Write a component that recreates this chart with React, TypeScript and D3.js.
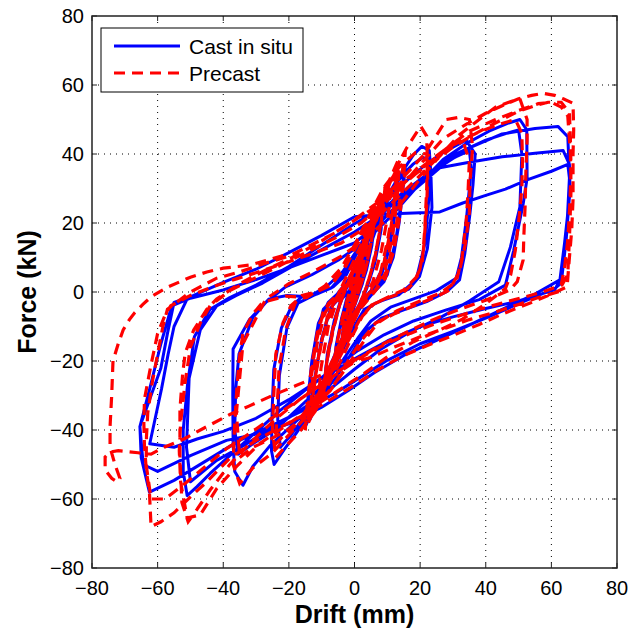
import React, { useEffect, useRef } from 'react';
import * as d3 from 'd3';

// drift (mm), force (kN), cycles grouped by drift level
const castSmall: [number, number][] = [
  [0, 0], [0.7, 3], [1.5, 6.5], [2.1, 8.5], [1.6, 5.5], [0.5, 1.5], [-0.6, -2.5], [-1.5, -6.5], [-2.1, -8.8], [-1.5, -5.2], [-0.4, -1.2],
  [1.1, 4.5], [2.4, 9.5], [3.5, 13.5], [4.1, 15.2], [3.5, 10.5], [2, 4.5], [0.4, -0.8], [-1.2, -5.5], [-2.7, -10.5], [-3.9, -14.8], [-3.4, -10], [-2.1, -4.6], [-0.6, 0.4],
  [1.3, 6], [3, 11.5], [4, 13.8], [3.3, 8.8], [1.7, 3.2], [-0.2, -2.6], [-2.1, -8.5], [-3.8, -13.6], [-3.2, -8.6], [-1.6, -3],
  [0.4, 3.2], [2.4, 9.8], [4.4, 16.5], [6.2, 21.2], [5.7, 16], [4.1, 8.5], [2.4, 2.4], [0.2, -3.5], [-2.4, -10.5], [-4.5, -16.8], [-6.3, -22], [-5.6, -15.5], [-3.9, -7.5], [-2.4, -2],
  [-0.6, 3], [2, 9.6], [4.2, 15.5], [6, 19.6], [5.3, 13.5], [3.6, 6.2], [1.7, 0.6], [-0.8, -5.5], [-3.3, -12.5], [-6, -20.5], [-5.2, -13.4], [-3.2, -5.5], [-1.6, 0.2],
  [1.5, 8], [4.2, 16], [6.8, 22.5], [9.2, 28.4], [8.6, 21.5], [6.8, 12.5], [4.8, 4.5], [2.5, -1.5], [-1, -8.5], [-4.5, -17], [-7.2, -23.5], [-9.4, -29.2], [-8.7, -21.5], [-6.6, -11.2], [-4.6, -4], [-2.4, 1.5],
  [1, 8.5], [5, 18.5], [8.8, 25.8], [8.1, 18], [6.2, 8.4], [3.8, 1.2], [0.4, -6.5], [-3.6, -15.5], [-6.8, -21.8], [-9.2, -27], [-8.3, -18.2], [-6.2, -8.4], [-4.2, -2.4],
];

const castCore: [number, number][] = [
  [-1, 1], [2, 6], [5, 14], [8, 22], [11, 29], [14, 34], [15.5, 36.5], [14.8, 30], [13.6, 20], [11.8, 10], [9, 3], [5, -1], [1.5, -5], [-2, -11], [-5.5, -19], [-9, -27], [-12.5, -34], [-15, -39], [-14.2, -31], [-13, -20], [-11, -9], [-8, -3],
  [-4, 0.5], [-0.5, 5], [3, 12], [6.5, 20], [10, 27], [13.5, 32.5], [15, 34], [14.2, 26], [12.6, 15], [10, 5], [6, 0], [2, -3], [-1.5, -8.4], [-5, -16], [-8.6, -24], [-12, -31], [-14.5, -36], [-13.6, -27], [-12, -15], [-9.5, -5], [-6, -1.5],
];

const castMid: [number, number][] = [
  [-1.5, 4], [2.5, 12.5], [6.5, 20.5], [10.4, 27.6], [13.5, 34], [12.9, 27.5], [11.2, 17.5], [8.8, 7.5], [5.5, 0.8], [2, -3], [-1, -8], [-4, -15], [-7.5, -24], [-10.6, -31], [-13.6, -37], [-12.8, -29], [-10.8, -17.5], [-8.3, -7.5], [-5.8, -2],
  [-2.5, 1], [0, 5.5], [3, 13], [6, 20], [9.8, 26], [13.2, 31.2], [12.5, 23.5], [10.6, 12.5], [7.8, 3.5], [4.2, -0.5], [1, -5], [-2, -11], [-5.5, -19], [-9, -26.5], [-13.2, -34], [-12.2, -25.5], [-10, -13.5], [-7.2, -4.5],
  [-3, 0], [0, 6], [3, 13], [6, 20], [9, 26], [12, 31], [15, 35.5], [18, 39.8], [20.5, 42.2], [22.8, 41], [23.3, 34], [23.6, 24.5], [22.2, 12.5], [19.8, 4.5], [16.5, 0.8], [11, -1.5], [6.5, -3.2], [3, -5.5], [0.2, -9.5], [-3, -15.5], [-6.5, -22], [-10, -29], [-13.5, -35], [-17.8, -41], [-21.4, -45.6], [-24.5, -50], [-25.3, -46], [-25.1, -34], [-24.6, -22.5], [-22.3, -10.5], [-19.2, -4.2], [-16.2, -1.5],
  [-11.5, -0.6], [-6.5, 1.5], [-2.5, 5], [1, 11.8], [5, 19.5], [9, 26.6], [13.5, 32.8], [17.8, 37], [20.8, 39], [22.4, 38.5], [22.9, 30], [21.6, 14.5], [18.8, 3.6], [13.5, -0.8], [7.5, -2.8], [3, -5], [-0.5, -10.6], [-4.5, -18.6], [-9.8, -27.5], [-15, -35.8], [-19.4, -41.5], [-22.6, -45], [-23.4, -37], [-22.9, -24.2], [-20.6, -10.4], [-17.2, -3.2],
];

const castDrift35: [number, number][] = [
  [-12.5, -1], [-7, 1.2], [-3, 5.5], [1, 12], [5, 19.8], [10, 26.6], [15.5, 32], [21.8, 37], [28, 41], [34, 44], [36.8, 40], [36.1, 31], [35.1, 22], [33.6, 11], [32, 3.5], [28.2, 0.2], [22, -2.8], [15, -5.2], [8.2, -7.6], [3.2, -11.6], [-0.8, -17.6], [-5.8, -25], [-11.8, -32], [-18.8, -38.4], [-25.8, -44.6], [-31, -50.6], [-34, -56], [-36.5, -52], [-37, -44], [-37.1, -30], [-37, -16.5], [-32, -8], [-26, -2],
  [-20.5, -1], [-14, -1.4], [-8.5, 1.6], [-3.5, 6], [1.5, 13.2], [6.5, 20.4], [12, 26.8], [18.8, 31.6], [25.8, 36.6], [31, 39.2], [35, 41], [35.6, 36], [34.2, 22], [32.6, 10], [31, 4], [25, 0.4], [18, -2], [11, -4.4], [5, -8.4], [1, -13.4], [-4, -20.4], [-10, -27.4], [-17, -33.6], [-24, -39.8], [-31, -44], [-35.5, -47], [-36.5, -40], [-36.2, -28], [-35.2, -18], [-31, -7.4], [-27, -3],
];

const castDrift50: [number, number][] = [
  [-21, 1.5], [-13, 5], [-5, 9.2], [3, 14.4], [11, 21.8], [19, 30.4], [27, 38.4], [34, 43], [41, 46.6], [47, 49], [50.4, 50], [52.5, 47], [52.6, 33], [51.4, 25.5], [48.5, 12], [46, 2], [38, -2.2], [28, -5.2], [18, -8.4], [9, -12.4], [1, -17], [-7, -22.6], [-15, -28.4], [-23, -34.6], [-31, -41.4], [-38, -47.4], [-44, -52.6], [-48, -56.4], [-51, -59], [-52.2, -52], [-52.2, -40], [-50.8, -26], [-48.8, -13], [-44, -5], [-38, -1.6],
  [-30, 2], [-20, 7.4], [-10, 13.6], [0, 19.8], [10, 25.2], [20, 32.6], [30, 39.6], [40, 44], [47, 46.2], [50, 47], [51, 40], [50.4, 24.6], [47.5, 13], [44, 3], [35, -2.6], [26, -7.5], [17, -11.5], [8, -16.6], [0, -22.4], [-8, -28.6], [-17, -34.6], [-26, -40], [-34, -44.6], [-42, -48.8], [-50, -55], [-51.2, -45], [-50.4, -25], [-47, -11], [-42, -4],
];

const castDrift65: [number, number][] = [
  [-36, -1], [-28, 2.6], [-19, 7.4], [-9, 12.8], [0, 17.4], [8, 22.4], [15, 28], [25, 35.6], [35, 41.8], [45, 45.8], [55, 47.4], [62, 48], [65, 45], [65.7, 30], [64.5, 15], [63, 2.6], [61, 1], [50, -3.4], [40, -7.6], [30, -11.4], [20, -15], [10, -19.8], [2, -24.6], [-6, -29.4], [-15, -34], [-25, -38.6], [-35, -43], [-45, -48.8], [-55, -54.6], [-62.5, -58], [-65, -48], [-65.4, -39], [-62.4, -28], [-59, -15], [-55.7, -4], [-50, -1.8],
  [-40, 0.6], [-30, 3.6], [-20, 7], [-10, 10.6], [0, 14.2], [8, 20.4], [15, 27], [26, 36], [35, 37.6], [45, 39.2], [55, 40.2], [63.6, 41], [65.5, 37], [65.7, 29], [64, 14], [62.6, 3.5], [55, -0.6], [45, -5], [35, -9.6], [25, -14], [15, -18.4], [6, -23.4], [-2, -28.6], [-10, -33.4], [-20, -38.2], [-30, -41.2], [-39, -43], [-50, -47.4], [-60, -52], [-64.4, -50], [-65.4, -39], [-62, -30], [-59, -22], [-57, -12], [-55, -3], [-49, -1],
  [-40, 2.8], [-30, 6.6], [-20, 11.4], [-10, 16.4], [0, 21.8], [10, 22.6], [20, 23], [26, 23.2], [33, 25.8], [40, 28], [46, 29.8], [52.6, 32.5], [60, 35], [65, 37], [65.5, 33], [64.8, 20], [62.6, 3.5], [61, 0.6], [50, -2.6], [40, -4.8], [30, -7.2], [20, -10], [10, -14.2], [0, -19.4], [-10, -25], [-20, -31.2], [-30, -36.6], [-40, -40.4], [-48, -42.6], [-55, -45], [-62.4, -44], [-60.6, -36], [-58.8, -28], [-56.8, -18], [-55, -10], [-51, -2],
];

const precastSmall: [number, number][] = [
  [0, 0], [0.8, 4], [1.6, 8], [2.2, 10.5], [1.7, 6.8], [0.5, 1.6], [-0.7, -3.6], [-1.6, -7.8], [-2.2, -10.2], [-1.5, -6.2], [-0.3, -1],
  [1.2, 5.5], [2.6, 11], [3.6, 15.5], [4.2, 17.2], [3.4, 11.4], [1.8, 4.6], [0.3, -1], [-1.3, -6.4], [-2.8, -11.8], [-4, -16.2], [-3.4, -10.6], [-1.9, -4.4], [-0.4, 0.6],
  [1.4, 7], [3, 12.8], [4.1, 16.2], [3.3, 10.2], [1.6, 3.2], [-0.3, -3], [-2.2, -9.2], [-3.9, -15], [-3.2, -9.4], [-1.5, -3],
  [0.6, 4], [2.6, 11.4], [4.6, 18.5], [6.3, 23.4], [5.6, 17.2], [4, 9], [2.2, 2.8], [0, -3.8], [-2.6, -11.4], [-4.6, -17.6], [-6.3, -22.4], [-5.5, -15.6], [-3.8, -7.8], [-2.2, -2.2],
  [-0.4, 3.6], [2.2, 11], [4.4, 17.4], [6.1, 22], [5.2, 15], [3.4, 6.8], [1.5, 0.8], [-1, -6], [-3.5, -13.4], [-6.1, -21.2], [-5.1, -13.8], [-3, -5.8], [-1.4, 0.4],
  [1.6, 9], [4.4, 18.4], [7, 25.4], [9.3, 30.4], [8.6, 22.8], [6.8, 13.2], [4.9, 5.2], [2.6, -1.2], [-1, -8.8], [-4.6, -18], [-7.2, -24.4], [-9.4, -29.6], [-8.6, -21], [-6.5, -11], [-4.6, -4], [-2.4, 1.8],
  [1.1, 9.4], [5, 20], [8.9, 28.4], [8.1, 19.8], [6.1, 9.4], [3.8, 1.8], [0.4, -6.8], [-3.6, -16.2], [-6.8, -22.4], [-9.2, -27.6], [-8.2, -18], [-6, -8], [-4, -2.4],
  [-1, 5], [3, 15], [6.5, 23], [10, 30], [11.2, 33], [10.5, 24], [8.2, 12], [5.6, 3], [2, -4], [-2, -11.6], [-6, -20], [-9, -26], [-11, -31], [-10.2, -22], [-8, -10], [-5.5, -3],
];

const precastCore: [number, number][] = [
  [-2, 1], [1.5, 7], [4.5, 15], [7.5, 23], [10.5, 31], [13.5, 37.5], [15.5, 41], [15, 33], [13.8, 22], [12, 12], [9.4, 4], [5.6, -0.6], [2, -4.6], [-1.6, -10.6], [-5, -18.4], [-8.6, -26.6], [-12, -33.4], [-15, -40], [-14.4, -32], [-13, -21], [-11, -10], [-8, -3.4],
  [-4.4, 0], [-1, 4.6], [2.4, 11.6], [6, 19.6], [9.6, 27.4], [13, 34], [14.8, 37], [14, 28], [12.4, 17], [10, 6.4], [6.4, 0.6], [2.4, -2.6], [-1, -7.6], [-4.6, -15], [-8.2, -23], [-11.6, -30.6], [-14.4, -37], [-13.6, -28], [-12, -16], [-9.6, -6], [-6, -1.4],
  [-2.6, 2.4], [0.4, 8], [3.6, 16], [7, 24], [10.6, 31.6], [13.6, 36.4], [13, 27], [11.6, 16], [9.4, 6.6], [6, 1], [2.6, -2], [-0.6, -7], [-4, -14], [-7.6, -22], [-11, -29.6], [-13.4, -35], [-12.8, -26], [-11.4, -15], [-9, -6], [-5.2, -1.2],
];

const precastMid: [number, number][] = [
  [-2, 5.4], [2.2, 14], [6.2, 23], [10, 31], [13.2, 38], [12.6, 29], [11, 18], [8.8, 7.6], [5.8, 1], [2.6, -2.4], [-0.4, -8], [-3.6, -15], [-7, -23], [-10.2, -30.2], [-13.3, -36], [-12.4, -27.6], [-10.6, -16.6], [-8, -6.4], [-5.2, -1.2],
  [-2.4, 1.6], [0.2, 7], [3, 14.6], [6.2, 22.4], [9.8, 29.4], [13, 36], [12.2, 27], [10.2, 15.6], [7.8, 5], [4.2, -0.6], [1.2, -5.6], [-2, -12.6], [-5.6, -20.4], [-9.4, -27.6], [-12.8, -33.6], [-12, -25], [-9.8, -13.4], [-6.8, -3.8],
  [-3.5, -0.4], [-0.5, 5.4], [2.5, 13.6], [5.5, 21.8], [8.5, 28.8], [12.2, 35.2], [15.8, 41.6], [18.5, 45.6], [20.2, 48], [22, 45.2], [22.2, 38], [22, 30], [21.4, 18], [20.6, 8], [18, 2.6], [15, 0], [10.4, -1.6], [6, -3.4], [2.4, -7], [-0.6, -12.6], [-4, -19.6], [-8, -27], [-12, -34.6], [-17, -40.8], [-21.6, -45.4], [-24, -48], [-25, -40], [-24.6, -30], [-24, -18], [-21.8, -9], [-19.4, -4], [-16, -1],
  [-11.6, 0], [-6.6, 2.6], [-2.8, 7.6], [0.6, 14.6], [4.6, 22.4], [9, 30.4], [13.8, 36.4], [18.6, 40.4], [22, 40], [22.3, 33], [22, 25], [21, 12], [19.6, 5], [15, 0.6], [10, -1.6], [5.2, -3.8], [1.6, -8], [-1.8, -14], [-6.6, -22.6], [-12.4, -31.2], [-18.4, -39], [-22, -42], [-24, -44], [-23.6, -34], [-23, -22], [-21, -11], [-18, -3],
];

const precastDrift35: [number, number][] = [
  [-13, -0.6], [-7, 2], [-2.6, 7.6], [1, 14], [5, 21.4], [10, 28.4], [15, 33.4], [21, 39.6], [25, 45.4], [28, 50], [31.6, 50.6], [35, 50], [36, 42], [35.2, 32], [35, 23], [33.8, 14], [32, 6], [29, 0.6], [24, -1.8], [18, -4], [12, -6.4], [6.4, -9], [2, -14.2], [-2, -20], [-6, -26.6], [-12, -33.6], [-19, -40.4], [-25, -46.6], [-31, -51], [-35, -55.5], [-37, -50], [-36.6, -40], [-36, -30], [-35.2, -20], [-34, -12], [-31, -6.4], [-28, -3],
  [-21, -1.2], [-14.6, -1.6], [-9, 1.8], [-4, 7], [0, 13.6], [4, 20.6], [9, 27.6], [16, 33], [23, 38], [28, 41.6], [33, 44], [35, 38], [34.6, 29], [34, 20], [32.8, 10], [31, 3], [26, -0.4], [20, -2.6], [13, -5.4], [7, -9], [3, -14], [-2, -21.2], [-7.4, -28.6], [-14, -35], [-20, -39.8], [-26, -42.8], [-31, -45], [-35, -48], [-36, -35], [-34, -15], [-27, -2],
];

const precastDrift50: [number, number][] = [
  [-20, 2.4], [-12, 6.2], [-4, 10.4], [4, 15.8], [12, 23], [19, 31.6], [26, 39.4], [32, 45.6], [38, 50], [43, 53.6], [47, 55], [50.4, 56], [52.6, 50], [52.6, 44], [52.2, 34], [52, 25], [51.6, 16], [51.4, 9.3], [49.6, 3], [47.4, 0.6], [40, -2.4], [32, -5], [24, -8], [16, -11.6], [8, -15.4], [0, -19.8], [-8, -25], [-16, -30.6], [-24, -36.8], [-31, -43], [-38, -50], [-44, -57.4], [-48, -63], [-50.7, -66.6], [-52.6, -61], [-53.2, -48], [-53.2, -34], [-52.4, -24], [-51.6, -17.7], [-49, -11], [-45, -5], [-42, -2],
  [-35, 2.4], [-27, 6.4], [-19, 10], [-10, 14.8], [-2, 19.6], [6, 24.4], [14, 30.4], [22, 37], [30, 42.8], [38, 46.4], [44, 48.6], [49, 50], [51, 46], [51.2, 38], [51, 30], [50, 20], [49, 12], [47.6, 5], [46, 1], [40, -3.4], [33, -7.8], [26, -11], [18, -14.4], [10, -18.8], [3, -23.6], [-5, -28.6], [-13, -33.6], [-21, -38.8], [-29, -44], [-36, -50.6], [-42, -57], [-47, -64.6], [-51, -65.5], [-53, -55], [-53.4, -46], [-53, -38], [-51.6, -26], [-50, -16], [-47, -9], [-44, -4],
];

const precastDrift65: [number, number][] = [
  [-38, 0.4], [-30, 4.2], [-22, 8], [-14, 11.8], [-6, 15.6], [2, 20], [9, 25.6], [15, 31.4], [21, 38], [27, 44.4], [34, 48.6], [40, 51.8], [45, 54], [50, 56], [54, 57], [57.5, 57.6], [61, 57], [63.6, 56], [66.6, 54.7], [66.8, 47], [66.6, 40], [66.6, 26.7], [66.2, 18], [65.5, 10], [64.8, 1.5], [60, -0.6], [55, -2.6], [45, -6.4], [38, -9.4], [30, -12.6], [22, -15.6], [15, -18.4], [7, -22.6], [0, -27], [-8, -31.6], [-15, -35.4], [-23, -39.4], [-30, -43], [-38, -48.2], [-45, -55], [-50, -59.4], [-55, -64], [-59, -66.6], [-62, -68], [-62.5, -58], [-63.4, -52], [-64, -45], [-64.2, -38], [-64, -31], [-62.2, -22], [-60, -12], [-57.6, -6.4], [-56, -4], [-50, -1],
  [-43, 1.6], [-36, 3.8], [-28, 6.2], [-20, 8.8], [-12, 11.4], [-4, 14.2], [3, 18.4], [10, 24.4], [17, 31], [24, 37.6], [30, 42], [37, 46], [45, 50], [50, 52.4], [55, 54], [59, 55], [63, 55], [65.5, 52], [65.8, 44], [66, 35], [65.6, 25], [65, 15], [64, 7], [63, 2], [58, 0.2], [52, -1.4], [45, -3.2], [38, -5], [31, -7.2], [24, -9.4], [17, -12], [10, -14.8], [3, -18.4], [-4, -22.8], [-11, -27.4], [-18, -32], [-25, -36.4], [-32, -41], [-39, -45.4], [-46, -51], [-52, -55.8], [-57.8, -60], [-62, -60], [-63.5, -50], [-63.4, -42], [-63, -35], [-61.6, -26], [-60, -18], [-58.4, -10], [-57, -5],
  [-50, 0], [-42, 4], [-35, 5.8], [-27, 8.4], [-20, 10.4], [-12, 14.2], [-5, 17.6], [2, 22.4], [10, 28], [20, 35.2], [28, 41.6], [35, 46.6], [43, 50], [50, 52.6], [56, 54.6], [60, 55], [63, 53.6], [65, 51], [65.8, 40], [66, 30], [65.6, 18], [65, 5], [62, 0], [56, -1.6], [50, -3.6], [43, -5.8], [35, -8], [28, -10.4], [20, -13], [12, -16], [5, -19], [-2, -20.6], [-10, -24], [-18, -27.2], [-25, -30], [-32, -33], [-38, -35.5], [-45, -39], [-52, -42.6], [-58, -45], [-62, -47], [-66, -46.6], [-72, -46], [-74.5, -46.4], [-76, -47.8], [-76, -51.6], [-74, -54], [-72.4, -55], [-71.5, -54], [-73, -50], [-74.5, -45], [-74.5, -39], [-74, -30], [-73.6, -20], [-72, -15], [-70.5, -11], [-68.6, -8], [-67, -6], [-64.5, -3.6], [-62, -1.4], [-57, 1.4], [-50, 4.3], [-45, 5.8], [-40, 6.9], [-32, 7.8], [-26, 9.4], [-20, 11],
];

const castInSitu = [...castSmall, ...castCore, ...castMid, ...castDrift35, ...castDrift50, ...castDrift65];
const precast = [...precastSmall, ...precastCore, ...precastMid, ...precastDrift35, ...precastDrift50, ...precastDrift65];

const xTicks = [-80, -60, -40, -20, 0, 20, 40, 60, 80];
const yTicks = [-80, -60, -40, -20, 0, 20, 40, 60, 80];
const legendLabels = ['Cast in situ', 'Precast'];

const W = 631;
const H = 630;
const FONT = '"Liberation Sans", Arial, Helvetica, sans-serif';

export default function App() {
  const svgRef = useRef<SVGSVGElement>(null);

  useEffect(() => {
    const svg = d3.select(svgRef.current);
    svg.selectAll('*').remove();

    const left = 92, right = 617, top = 16, bottom = 568;
    const x = d3.scaleLinear().domain([-80, 80]).range([left, right]);
    const y = d3.scaleLinear().domain([-80, 80]).range([bottom, top]);

    svg.append('rect').attr('width', W).attr('height', H).attr('fill', '#fff');

    // dotted grid
    const grid = svg.append('g').attr('stroke', '#000').attr('stroke-width', 1).attr('stroke-dasharray', '1 5');
    xTicks.slice(1, -1).forEach(t => {
      grid.append('line').attr('x1', x(t)).attr('x2', x(t)).attr('y1', top).attr('y2', bottom);
    });
    yTicks.slice(1, -1).forEach(t => {
      grid.append('line').attr('x1', left).attr('x2', right).attr('y1', y(t)).attr('y2', y(t));
    });

    svg.append('clipPath').attr('id', 'plotclip')
      .append('rect').attr('x', left).attr('y', top).attr('width', right - left).attr('height', bottom - top);

    const line = d3.line<[number, number]>().x(d => x(d[0])).y(d => y(d[1]));
    const plot = svg.append('g').attr('clip-path', 'url(#plotclip)');
    plot.append('path').attr('d', line(castInSitu))
      .attr('fill', 'none').attr('stroke', '#0000ff').attr('stroke-width', 3)
      .attr('stroke-linejoin', 'round');
    plot.append('path').attr('d', line(precast))
      .attr('fill', 'none').attr('stroke', '#ff0000').attr('stroke-width', 3.2)
      .attr('stroke-dasharray', '11 7');

    // box + inward ticks
    svg.append('rect').attr('x', left).attr('y', top).attr('width', right - left).attr('height', bottom - top)
      .attr('fill', 'none').attr('stroke', '#222').attr('stroke-width', 1.5);
    const ticks = svg.append('g').attr('stroke', '#222').attr('stroke-width', 1);
    xTicks.forEach(t => {
      ticks.append('line').attr('x1', x(t)).attr('x2', x(t)).attr('y1', bottom).attr('y2', bottom - 5);
      ticks.append('line').attr('x1', x(t)).attr('x2', x(t)).attr('y1', top).attr('y2', top + 5);
    });
    yTicks.forEach(t => {
      ticks.append('line').attr('x1', left).attr('x2', left + 5).attr('y1', y(t)).attr('y2', y(t));
      ticks.append('line').attr('x1', right).attr('x2', right - 5).attr('y1', y(t)).attr('y2', y(t));
    });

    const fmt = (v: number) => (v < 0 ? '\u2212' + Math.abs(v) : String(v));
    svg.append('g').selectAll('text').data(xTicks).join('text')
      .attr('x', d => x(d)).attr('y', 595).attr('text-anchor', 'middle')
      .attr('font-family', FONT).attr('font-size', 20).text(d => fmt(d));
    svg.append('g').selectAll('text').data(yTicks).join('text')
      .attr('x', 84).attr('y', d => y(d) + 7).attr('text-anchor', 'end')
      .attr('font-family', FONT).attr('font-size', 20).text(d => fmt(d));

    svg.append('text').attr('x', (left + right) / 2).attr('y', 623).attr('text-anchor', 'middle')
      .attr('font-family', FONT).attr('font-size', 25).attr('font-weight', 'bold').text('Drift (mm)');
    svg.append('text').attr('transform', `translate(36,${(top + bottom) / 2}) rotate(-90)`)
      .attr('text-anchor', 'middle')
      .attr('font-family', FONT).attr('font-size', 25).attr('font-weight', 'bold').text('Force (kN)');

    // legend
    const lg = svg.append('g');
    lg.append('rect').attr('x', 101).attr('y', 28).attr('width', 202).attr('height', 64)
      .attr('fill', '#fff').attr('stroke', '#000').attr('stroke-width', 1);
    const styles = [
      { color: '#0000ff', dash: null },
      { color: '#ff0000', dash: '11 7' },
    ];
    legendLabels.forEach((label, i) => {
      const ly = 46 + i * 27;
      lg.append('line').attr('x1', 114).attr('x2', 180).attr('y1', ly).attr('y2', ly)
        .attr('stroke', styles[i].color).attr('stroke-width', 3)
        .attr('stroke-dasharray', styles[i].dash);
      lg.append('text').attr('x', 189).attr('y', ly + 7.5)
        .attr('font-family', FONT).attr('font-size', 21).text(label);
    });
  }, []);

  return (
    <svg ref={svgRef} width={W} height={H}
      style={{ position: 'absolute', left: 0, top: 0, display: 'block' }} />
  );
}
